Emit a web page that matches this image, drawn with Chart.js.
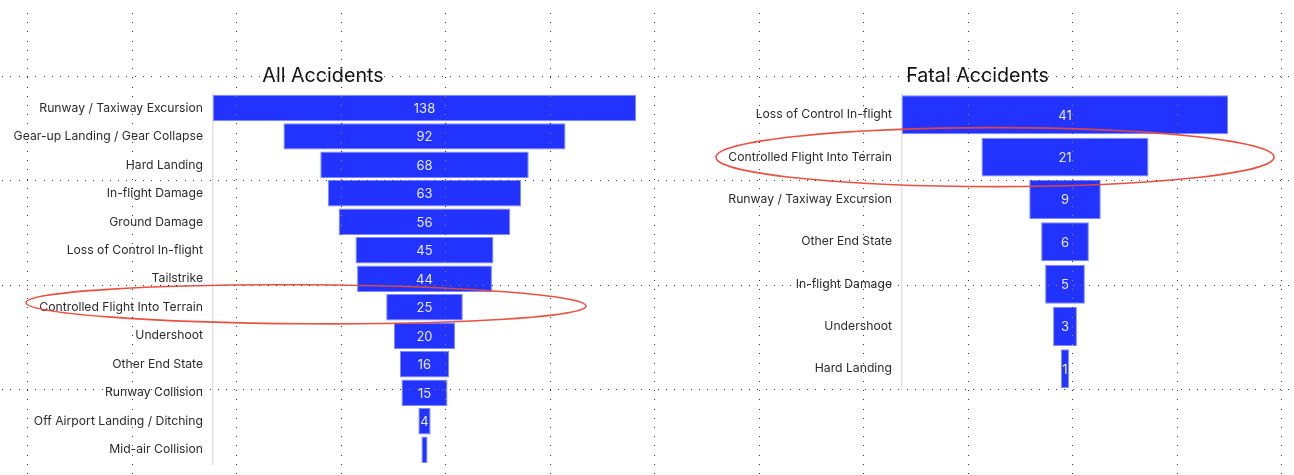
<!DOCTYPE html>
<html>
<head>
<meta charset="utf-8">
<script src="https://cdn.jsdelivr.net/npm/chart.js@4"></script>
<style>
  html, body { margin: 0; padding: 0; background: #fff; }
  body { width: 1294px; height: 475px; position: relative; overflow: hidden; }
  .box { position: absolute; top: 0; height: 475px; }
  #allBox { left: 0; width: 636px; }
  #fatalBox { left: 660px; width: 634px; }
  #dots { position: absolute; left: 0; top: 0; pointer-events: none; mix-blend-mode: difference; }
</style>
</head>
<body>
<div class="box" id="allBox"><canvas id="allChart"></canvas></div>
<div class="box" id="fatalBox"><canvas id="fatalChart"></canvas></div>
<canvas id="dots" width="1294" height="475"></canvas>
<script>
const allCategories = [
  "Runway / Taxiway Excursion",
  "Gear-up Landing / Gear Collapse",
  "Hard Landing",
  "In-flight Damage",
  "Ground Damage",
  "Loss of Control In-flight",
  "Tailstrike",
  "Controlled Flight Into Terrain",
  "Undershoot",
  "Other End State",
  "Runway Collision",
  "Off Airport Landing / Ditching",
  "Mid-air Collision",
];
const allValues = [138, 92, 68, 63, 56, 45, 44, 25, 20, 16, 15, 4, 2];

const fatalCategories = [
  "Loss of Control In-flight",
  "Controlled Flight Into Terrain",
  "Runway / Taxiway Excursion",
  "Other End State",
  "In-flight Damage",
  "Undershoot",
  "Hard Landing",
];
const fatalValues = [41, 21, 9, 6, 5, 3, 1];

const highlighted = "Controlled Flight Into Terrain";

const BAR_BLUE = "rgb(34, 51, 255)";
const BAR_EDGE = "rgb(125, 138, 255)";
const FONT = "Inter, 'Noto Sans', sans-serif";

// value in the middle of each funnel bar
const centerLabels = {
  id: "centerLabels",
  afterDatasetsDraw(chart) {
    const ctx = chart.ctx;
    const meta = chart.getDatasetMeta(0);
    const values = chart.data.datasets[0].rawValues;
    ctx.save();
    ctx.font = "13px " + FONT;
    ctx.fillStyle = "#e6e8ff";
    ctx.textAlign = "center";
    ctx.textBaseline = "middle";
    meta.data.forEach((bar, i) => {
      const w = Math.abs(bar.x - bar.base);
      if (w < 7) return;
      ctx.fillText(String(values[i]), (bar.x + bar.base) / 2, bar.y + 1);
    });
    ctx.restore();
  },
};

// red ring round the highlighted category
const ringPlugin = {
  id: "ring",
  afterDraw(chart, args, opts) {
    const yScale = chart.scales.y;
    const idx = chart.data.labels.indexOf(highlighted);
    if (idx < 0) return;
    const cy = yScale.getPixelForValue(idx) + opts.dy;
    const ctx = chart.ctx;
    ctx.save();
    ctx.strokeStyle = "rgba(232, 72, 56, 0.95)";
    ctx.lineWidth = 1.6;
    ctx.beginPath();
    ctx.ellipse(opts.cx, cy, opts.rx, opts.ry, opts.rot, 0, Math.PI * 2);
    ctx.stroke();
    ctx.restore();
  },
};

function makeFunnel(id, title, labels, values, opts) {
  const half = Math.max(...values) / 2;
  return new Chart(document.getElementById(id), {
    type: "bar",
    data: {
      labels: labels,
      datasets: [
        {
          data: values.map((v) => [-v / 2, v / 2]),
          rawValues: values,
          backgroundColor: BAR_BLUE,
          borderColor: BAR_EDGE,
          borderWidth: 1,
          borderSkipped: false,
          barPercentage: opts.barPct,
          categoryPercentage: 1,
        },
      ],
    },
    options: {
      indexAxis: "y",
      responsive: true,
      maintainAspectRatio: false,
      animation: false,
      layout: {
        padding: { left: opts.padLeft, right: opts.padRight, top: 0, bottom: opts.padBottom },
      },
      plugins: {
        legend: { display: false },
        tooltip: { enabled: false },
        title: {
          display: true,
          text: title,
          color: "#111",
          font: { family: FONT, size: 19.7, weight: "normal" },
          padding: { top: opts.titleTop, bottom: opts.titleGap },
        },
        ring: opts.ring,
      },
      scales: {
        x: { display: false, min: -half, max: half },
        y: {
          grid: { display: false, drawTicks: false },
          border: { display: true, color: "#e2e2e2", width: 1.5 },
          ticks: {
            color: "#2b2b2b",
            padding: 10,
            font: { family: FONT, size: 12.2 },
          },
          afterFit(scale) {
            // fixed label column, and no extra room above/below for labels
            scale.width = opts.axisWidth;
            scale.paddingTop = 0;
            scale.paddingBottom = 0;
          },
        },
      },
    },
    plugins: [centerLabels, ringPlugin],
  });
}

makeFunnel("allChart", "All Accidents", allCategories, allValues, {
  barPct: 0.93,
  padLeft: 10,
  padRight: 0,
  padBottom: 11,
  titleTop: 64,
  titleGap: 6,
  axisWidth: 203,
  ring: { cx: 306, dy: -3, rx: 280, ry: 19.5, rot: 0.006 },
});

makeFunnel("fatalChart", "Fatal Accidents", fatalCategories, fatalValues, {
  barPct: 0.92,
  padLeft: 67,
  padRight: 66,
  padBottom: 85,
  titleTop: 64,
  titleGap: 6,
  axisWidth: 175,
  ring: { cx: 335, dy: 0, rx: 279, ry: 29.5, rot: 0 },
});

// dotted guide grid laid over the whole picture
(function drawDots() {
  const c = document.getElementById("dots");
  const ctx = c.getContext("2d");
  ctx.fillStyle = "rgb(200, 200, 200)";
  const step = 104.5;
  for (let x = 27; x < 1294; x += step) {
    for (let y = 13; y < 475; y += 9.2) {
      ctx.fillRect(Math.round(x), Math.round(y), 1, 1);
    }
  }
  for (let y = 75.7; y < 475; y += step) {
    for (let x = 2; x < 1294; x += 8.3) {
      ctx.fillRect(Math.round(x), Math.round(y), 1, 1);
    }
  }
})();
</script>
</body>
</html>
